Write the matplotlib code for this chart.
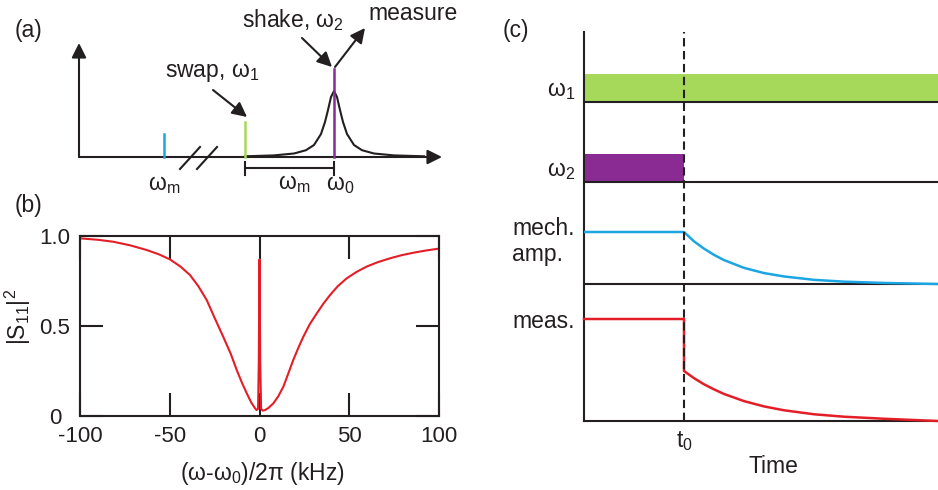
import matplotlib
matplotlib.use('Agg')
import matplotlib.pyplot as plt
from matplotlib.transforms import ScaledTranslation

plt.rcParams['font.family'] = ['Liberation Sans', 'DejaVu Sans']
plt.rcParams['mathtext.fontset'] = 'custom'
plt.rcParams['mathtext.rm'] = 'Liberation Sans'
plt.rcParams['mathtext.it'] = 'Liberation Sans'
plt.rcParams['mathtext.default'] = 'regular'
plt.rcParams['axes.unicode_minus'] = False

INK = '#231f20'
BLUE = '#1ba6e3'
GREEN = '#a6d95a'
PURPLE = '#8a2b93'
RED = '#e41e26'
FS = 16.5

# ---- panel (a): schematic spectrum (arbitrary frequency units, broken axis)
spike_freq = [164, 245, 334]          # mech. sideband, swap (w1), shake (w2)
spike_height = [23, 35, 88]
spike_color = [BLUE, GREEN, PURPLE]
lor_freq = [245, 274, 294, 306, 314, 321, 325, 328, 331, 334,
            337, 340, 343, 347, 354, 362, 374, 394, 424]
lor_height = [0.7, 1.6, 3.5, 6.8, 12, 23, 35, 47, 60, 66,
              60, 47, 35, 23, 12, 6.8, 3.5, 1.6, 0.7]

# ---- panel (b): measured reflection
s11_x = [-100, -90, -81.4, -72, -62.8, -56, -49.9, -44, -38.7, -34,
         -29.4, -25, -20.2, -16, -12.7, -9.8, -7.1, -4.6, -2.5, -1.6,
         -0.8, -0.4, 0.0, 0.4, 0.9, 1.8, 3.1, 5.0, 7.7, 10.5,
         13.3, 16.0, 18.8, 21.6, 24.4, 28.0, 31.9, 35.5, 39.3, 43.5,
         48.6, 54.0, 59.7, 66.0, 72.7, 79.0, 85.7, 92.5, 100]
s11_y = [0.987, 0.979, 0.968, 0.948, 0.922, 0.898, 0.870, 0.830, 0.783, 0.720,
         0.644, 0.545, 0.440, 0.345, 0.256, 0.185, 0.126, 0.075, 0.043, 0.033,
         0.040, 0.300, 0.870, 0.300, 0.040, 0.030, 0.033, 0.045, 0.070, 0.110,
         0.163, 0.235, 0.311, 0.378, 0.440, 0.510, 0.570, 0.623, 0.672, 0.720,
         0.765, 0.800, 0.830, 0.855, 0.876, 0.893, 0.907, 0.919, 0.930]
s11_ticks_x = [-100, -50, 0, 50, 100]
s11_ticks_y = [0, 0.5, 1.0]
s11_ticklabels_y = ['0', '0.5', '1.0']

# ---- panel (c): pulse sequence (time in units of t0)
t0 = 1.0
t_end = 3.54
w1_t = [0, t_end]
w1_on = [1, 1]
w2_t = [0, t0]
w2_on = [1, 1]
mech_t = [0, 1.0, 1.1, 1.2, 1.3, 1.4, 1.6, 1.8, 2.0, 2.3, 2.6, 3.0, 3.54]
mech_v = [1, 1, 0.82, 0.68, 0.56, 0.46, 0.31, 0.21, 0.145, 0.08, 0.045, 0.02, 0.0]
meas_t = [0, 1.0, 1.0, 1.1, 1.2, 1.3, 1.4, 1.6, 1.8, 2.0, 2.3, 2.6, 3.0, 3.54]
meas_v = [1, 1, 0.49, 0.42, 0.36, 0.31, 0.265, 0.195, 0.143, 0.105, 0.066,
          0.042, 0.022, 0.0]

fig = plt.figure(figsize=(9.38, 4.90), dpi=100)

# ================= (a)
ax_a = fig.add_axes([0, 290 / 490, 470 / 938, 200 / 490])
ax_a.set_xlim(0, 470)
ax_a.set_ylim(-43, 157)
ax_a.axis('off')

arrow = dict(arrowstyle='-|>', color=INK, lw=1.5, mutation_scale=22,
             shrinkA=0, shrinkB=0)
ax_a.annotate('', xy=(79, 114), xytext=(79, 0), arrowprops=arrow)
ax_a.annotate('', xy=(442, 0), xytext=(79, 0), arrowprops=arrow)
ax_a.plot(lor_freq, lor_height, color=INK, lw=1.5, zorder=3)
for f, h, c in zip(spike_freq, spike_height, spike_color):
    ax_a.plot([f, f], [0, h], color=c, lw=1.8, zorder=4)
# axis break
for x0 in (180, 197):
    ax_a.plot([x0, x0 + 20], [-12, 10], color=INK, lw=1.5)
# omega_m bracket
ax_a.plot([245, 334], [-11, -11], color=INK, lw=1.5)
for f in (245, 334):
    ax_a.plot([f, f], [-5, -18], color=INK, lw=1.5)

ax_a.text(164, -33, r'$\omega_m$', ha='center', va='baseline', fontsize=FS, color=INK)
ax_a.text(294, -32, r'$\omega_m$', ha='center', va='baseline', fontsize=FS, color=INK)
ax_a.text(340, -33, r'$\omega_0$', ha='center', va='baseline', fontsize=FS, color=INK)
ax_a.text(212, 80, r'swap, $\omega_1$', ha='center', va='baseline', fontsize=FS, color=INK)
ax_a.text(293, 130, r'shake, $\omega_2$', ha='center', va='baseline', fontsize=FS, color=INK)
ax_a.text(413, 137, 'measure', ha='center', va='baseline', fontsize=FS, color=INK)
ax_a.annotate('', xy=(247, 40), xytext=(213, 67), arrowprops=arrow)
ax_a.annotate('', xy=(332, 90), xytext=(302, 119), arrowprops=arrow)
ax_a.annotate('', xy=(365, 129), xytext=(335, 90), arrowprops=arrow)

fig.text(28 / 938, 1 - 30 / 490, '(a)', ha='center', va='center', fontsize=FS, color=INK)
fig.text(28 / 938, 1 - 205 / 490, '(b)', ha='center', va='center', fontsize=FS, color=INK)
fig.text(516 / 938, 1 - 31 / 490, '(c)', ha='center', va='center', fontsize=FS, color=INK)

# ================= (b)
ax_b = fig.add_axes([80 / 938, 74 / 490, 359 / 938, 180 / 490])
ax_b.plot(s11_x, s11_y, color=RED, lw=1.5)
ax_b.set_xlim(-100, 100)
ax_b.set_ylim(0, 1)
ax_b.set_xticks(s11_ticks_x)
ax_b.set_yticks(s11_ticks_y)
ax_b.set_yticklabels(s11_ticklabels_y)
ax_b.tick_params(direction='in', length=16.5, width=1.5, top=True, right=True,
                 labelsize=16, pad=7, colors=INK)
for sp in ax_b.spines.values():
    sp.set_linewidth(1.5)
    sp.set_color(INK)
# the "0" label sits a little further out, as in the original
zero_lbl = ax_b.get_yticklabels()[0]
zero_lbl.set_transform(zero_lbl.get_transform()
                       + ScaledTranslation(-0.09, 0, fig.dpi_scale_trans))
ax_b.set_ylabel(r'$|S_{11}|^2$', fontsize=FS, color=INK)
ax_b.yaxis.set_label_coords(-0.131, 0.55)
ax_b.set_xlabel(r'($\omega$-$\omega_0$)/2$\pi$ (kHz)', fontsize=FS, color=INK)
ax_b.xaxis.set_label_coords(0.507, -0.244)

# ================= (c)
ax_c = fig.add_axes([584 / 938, 69 / 490, 354 / 938, 389 / 490])
ax_c.set_xlim(0, t_end)
ax_c.set_ylim(0, 389)
base_w1, base_w2, base_mech, base_meas = 319, 239, 137, 0
bar_h, mech_amp, meas_amp = 28, 52, 102

ax_c.fill_between(w1_t, base_w1, [base_w1 + bar_h * v for v in w1_on],
                  color=GREEN, lw=0)
ax_c.fill_between(w2_t, base_w2, [base_w2 + bar_h * v for v in w2_on],
                  color=PURPLE, lw=0)
for b in (base_w1, base_w2, base_mech):
    ax_c.axhline(b, color=INK, lw=1.5)
ax_c.plot(mech_t, [base_mech + mech_amp * v for v in mech_v], color=BLUE,
          lw=1.8, zorder=3)
ax_c.plot(meas_t, [base_meas + meas_amp * v for v in meas_v], color=RED,
          lw=1.8, zorder=3, clip_on=False)
ax_c.axvline(t0, color=INK, lw=1.5, dashes=(4, 2.2), zorder=4)

for side in ('top', 'right'):
    ax_c.spines[side].set_visible(False)
for side in ('left', 'bottom'):
    ax_c.spines[side].set_linewidth(1.5)
    ax_c.spines[side].set_color(INK)
ax_c.set_yticks([333, 253, 184, 102])
ax_c.set_yticklabels([r'$\omega_1$', r'$\omega_2$', 'mech.\namp.', 'meas.'])
ax_c.get_yticklabels()[2].set_multialignment('left')
ax_c.set_xticks([t0])
ax_c.set_xticklabels([r'$t_0$'])
ax_c.tick_params(length=0, labelsize=FS, colors=INK)
ax_c.tick_params(axis='y', pad=6.5)
ax_c.tick_params(axis='x', pad=6)
ax_c.set_xlabel('Time', fontsize=FS, color=INK)
ax_c.xaxis.set_label_coords(0.534, -0.087)

fig.savefig('out.png', dpi=100)
